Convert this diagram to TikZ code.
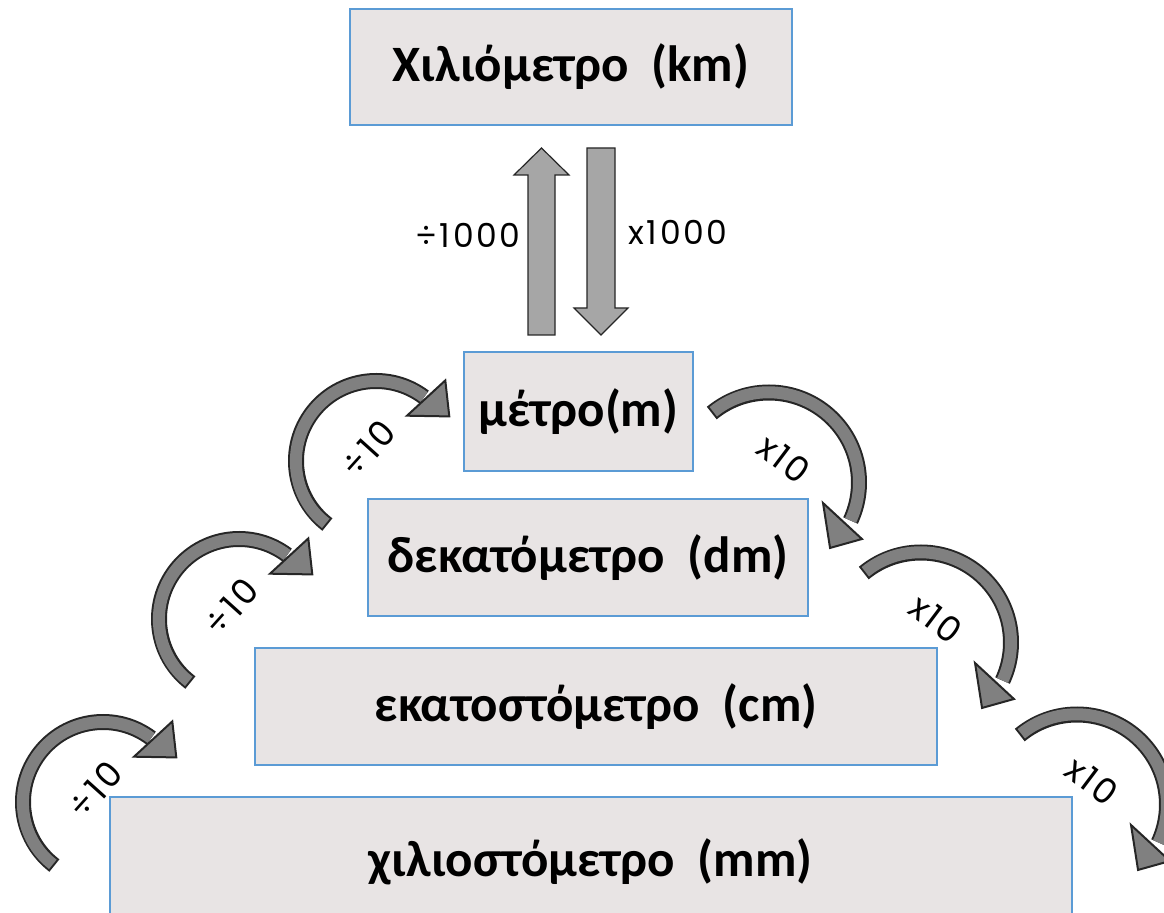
\documentclass[tikz,border=0pt]{standalone}
\usepackage{fontspec}
\setmainfont{Carlito}
\newfontfamily\labelfont[LetterSpace=8]{Poppins}
\usetikzlibrary{calc}

\definecolor{boxfill}{RGB}{232,228,228}
\definecolor{boxline}{RGB}{91,155,213}
\definecolor{turngray}{RGB}{128,128,128}
\definecolor{blockgray}{RGB}{166,166,166}
\definecolor{edgeblack}{RGB}{38,38,38}

\tikzset{
  unit/.style={draw=boxline, line width=1pt, fill=boxfill, inner sep=0pt,
    font=\fontsize{25.5}{30}\selectfont\bfseries},
  turnline/.style={draw=edgeblack, line width=8pt},
  turnfill/.style={draw=turngray, line width=6pt, shorten <=1pt},
  turnhead/.style={draw=edgeblack, line width=1pt, fill=turngray, line join=miter},
  blockarrow/.style={draw=edgeblack, line width=0.6pt, fill=blockgray},
  factor/.style={font=\labelfont\fontsize{16.5}{20}\selectfont, inner sep=0pt},
  tenfactor/.style={font=\labelfont\fontsize{17.5}{20}\selectfont, inner sep=0pt},
}

% curved arrow: centre, start angle, end angle, radius, head corners and tip (polar, from centre)
\newcommand\turnarrow[7]{%
  \draw[turnline] ($(#1)+(#2:#4)$) arc[start angle=#2, end angle=#3, radius=#4];
  \draw[turnfill] ($(#1)+(#2:#4)$) arc[start angle=#2, end angle=#3, radius=#4];
  \draw[turnhead] ($(#1)+(#5)$) -- ($(#1)+(#6)$) -- ($(#1)+(#7)$) -- cycle;
}

\begin{document}
\begin{tikzpicture}[x=0.5pt, y=0.5pt]
  \useasboundingbox (0,0) rectangle (1164,912);

  \node[unit, minimum width=221pt, minimum height=58pt]   (km) at (571,845)   {Χιλιόμετρο~~(km)};
  \node[unit, minimum width=114.5pt, minimum height=59.5pt] (m) at (578.5,500.5) {μέτρο(m)};
  \node[unit, minimum width=220pt, minimum height=58.5pt] (dm) at (588,354)   {δεκατόμετρο~~(dm)};
  \node[unit, minimum width=341pt, minimum height=58.5pt] (cm) at (596,205.5) {εκατοστόμετρο~~(cm)};
  \node[unit, minimum width=481pt, minimum height=65pt]   (mm) at (590.5,50)  {χιλιοστόμετρο~~(mm)};

  \draw[blockarrow] (528,577) -- (555,577) -- (555,737) -- (569,737) -- (541.5,764) -- (514,737) -- (528,737) -- cycle; % up
  \draw[blockarrow] (587,764) -- (615,764) -- (615,604) -- (628,604) -- (601,577) -- (574,604) -- (587,604) -- cycle; % down
  \node[factor, anchor=east] (divkm) at (521,677) {÷1000};
  \node[factor, anchor=west] (mulkm) at (628,680) {x1000};

  \coordinate (lt1) at (376,451);
  \coordinate (lt2) at (239,293);
  \coordinate (lt3) at (103,110);
  \coordinate (rt1) at (769,429.5);
  \coordinate (rt2) at (921,269.5);
  \coordinate (rt3) at (1077,107.5);

  \turnarrow{lt1}{232.6}{53}{80}{55.6:54.9}{49.3:106.3}{31.3:85.8}  % dm -> m
  \turnarrow{lt2}{232.6}{53}{80}{55.6:54.9}{49.3:106.3}{31.3:85.8}  % cm -> dm
  \turnarrow{lt3}{232.6}{53}{80}{55.6:54.9}{49.3:106.3}{31.3:85.8}  % mm -> cm
  \turnarrow{rt1}{129.5}{-25}{90}{-20.8:57.8}{-31.3:108.8}{-47:89.5} % m -> dm
  \turnarrow{rt2}{129.5}{-25}{90}{-20.8:57.8}{-31.3:108.8}{-47:89.5} % dm -> cm
  \turnarrow{rt3}{129.5}{-25}{90}{-20.8:57.8}{-31.3:108.8}{-47:89.5} % cm -> mm

  \node[tenfactor, rotate=48]  (div1) at ($(lt1)+(-8,12)$) {÷10};
  \node[tenfactor, rotate=48]  (div2) at ($(lt2)+(-8,12)$) {÷10};
  \node[tenfactor, rotate=48]  (div3) at ($(lt3)+(-8,12)$) {÷10};
  \node[tenfactor, rotate=-37] (mul1) at ($(rt1)+(15,24)$) {x10};
  \node[tenfactor, rotate=-37] (mul2) at ($(rt2)+(15,24)$) {x10};
  \node[tenfactor, rotate=-37] (mul3) at ($(rt3)+(15,24)$) {x10};
\end{tikzpicture}
\end{document}
